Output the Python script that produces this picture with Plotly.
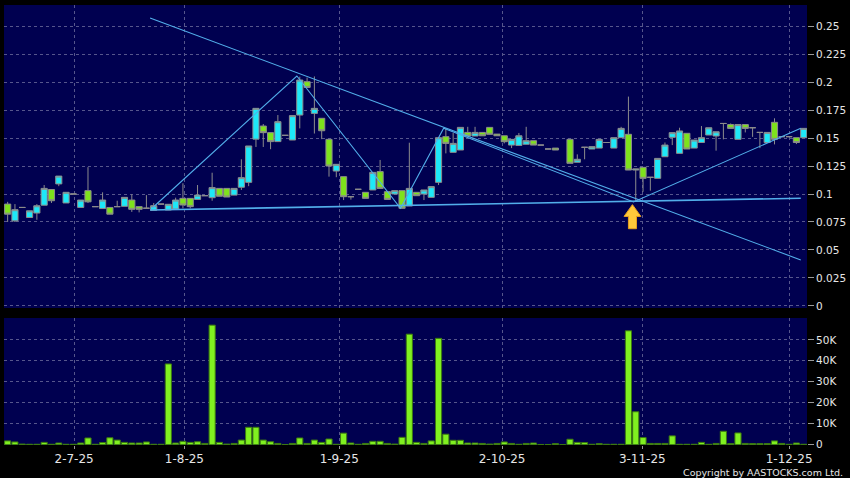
import plotly.graph_objects as go

# ---------------- data ----------------
opens = [0.091, 0.076, 0.088, 0.079, 0.083, 0.090, 0.104, 0.109, 0.092, 0.100,
         0.088, 0.103, 0.0887, 0.087, 0.088, 0.0887, 0.089, 0.0946, 0.0887, 0.0873,
         0.0854, 0.091, 0.0857, 0.0866, 0.0961, 0.0961, 0.0952, 0.0985, 0.0967, 0.105,
         0.105, 0.099, 0.106, 0.1104, 0.149, 0.1607, 0.1548, 0.1468, 0.1524, 0.1482,
         0.1705, 0.2003, 0.172, 0.1676, 0.1488, 0.1205, 0.1155, 0.0976, 0.1042, 0.1015,
         0.1036, 0.120, 0.1021, 0.100, 0.103, 0.0893, 0.1015, 0.100, 0.097, 0.1104,
         0.1512, 0.1372, 0.1393, 0.155, 0.1518, 0.155, 0.1595, 0.1535, 0.152, 0.1437,
         0.1434, 0.1444, 0.1476, 0.1437, 0.1402, 0.141, None, 0.1488, 0.1283, 0.1417,
         0.1402, 0.141, 0.146, 0.141, 0.1503, 0.1533, 0.1214, 0.1238, 0.1149, 0.114,
         0.1333, 0.1506, 0.1363, 0.1542, 0.141, 0.146, 0.1527, 0.1518, 0.163, 0.162,
         0.1488, 0.162, 0.1592, 0.155, 0.146, 0.164, 0.1512, 0.1512, 0.1503, 0.1503]
highs = [0.093, 0.091, 0.088, 0.085, 0.091, 0.108, 0.104, 0.116, 0.1015, 0.100,
         0.0946, 0.124, 0.0887, 0.1015, 0.088, 0.094, 0.097, 0.0997, 0.0887, 0.099,
         0.092, 0.091, 0.0908, 0.0967, 0.1096, 0.0961, 0.108, 0.0985, 0.119, 0.105,
         0.105, 0.105, 0.131, 0.1429, 0.1765, 0.1625, 0.1548, 0.1705, 0.1524, 0.170,
         0.2048, 0.204, 0.205, 0.1676, 0.1488, 0.1265, 0.1155, 0.0976, 0.1042, 0.1015,
         0.1193, 0.1304, 0.1021, 0.103, 0.103, 0.1458, 0.1015, 0.1036, 0.1066, 0.1503,
         0.1586, 0.1545, 0.1595, 0.160, 0.160, 0.155, 0.1595, 0.1535, 0.152, 0.1488,
         0.1545, 0.160, 0.1476, 0.1437, 0.1402, 0.141, None, 0.1488, 0.1354, 0.1417,
         0.1423, 0.1488, 0.146, 0.1503, 0.160, 0.187, 0.1223, 0.1238, 0.1149, 0.1318,
         0.146, 0.1548, 0.1592, 0.1542, 0.1482, 0.1607, 0.1592, 0.1556, 0.163, 0.163,
         0.162, 0.162, 0.1592, 0.155, 0.155, 0.1676, 0.1512, 0.1512, 0.1503, 0.1586]
lows = [0.075, 0.075, 0.088, 0.079, 0.077, 0.090, 0.092, 0.107, 0.092, 0.100,
        0.088, 0.092, 0.0887, 0.087, 0.082, 0.0887, 0.089, 0.084, 0.0836, 0.0873,
        0.0854, 0.091, 0.0857, 0.0866, 0.0872, 0.0872, 0.0952, 0.0985, 0.094, 0.098,
        0.0973, 0.099, 0.1036, 0.107, 0.142, 0.142, 0.140, 0.1468, 0.1524, 0.1482,
        0.1586, 0.1952, 0.154, 0.149, 0.1155, 0.115, 0.0946, 0.095, 0.1042, 0.0961,
        0.1036, 0.105, 0.0952, 0.100, 0.0872, 0.0893, 0.0985, 0.0946, 0.097, 0.108,
        0.1363, 0.1372, 0.1393, 0.1518, 0.1518, 0.152, 0.1533, 0.152, 0.1452, 0.141,
        0.1434, 0.1444, 0.1437, 0.1437, 0.1402, 0.1393, None, 0.1274, 0.1283, 0.131,
        0.1402, 0.141, 0.146, 0.141, 0.1503, 0.1214, 0.093, 0.102, 0.103, 0.114,
        0.1333, 0.1437, 0.1363, 0.1402, 0.141, 0.146, 0.1527, 0.1387, 0.1488, 0.1586,
        0.1488, 0.155, 0.151, 0.141, 0.146, 0.1443, 0.1512, 0.1512, 0.1446, 0.1503]
closes = [0.082, 0.086, 0.088, 0.085, 0.0895, 0.105, 0.094, 0.116, 0.1015, 0.100,
          0.0946, 0.093, 0.0887, 0.0946, 0.082, 0.0887, 0.097, 0.0863, 0.0863, 0.0873,
          0.0896, 0.091, 0.0908, 0.0946, 0.0902, 0.0887, 0.099, 0.0985, 0.1057, 0.098,
          0.0973, 0.105, 0.1146, 0.1429, 0.1765, 0.1548, 0.1468, 0.1646, 0.1524, 0.170,
          0.2018, 0.1952, 0.1765, 0.1565, 0.125, 0.1265, 0.0976, 0.0976, 0.1042, 0.0961,
          0.1193, 0.105, 0.0952, 0.103, 0.0872, 0.105, 0.0985, 0.1036, 0.1066, 0.1503,
          0.1452, 0.1452, 0.1595, 0.1518, 0.155, 0.152, 0.1533, 0.152, 0.1467, 0.1488,
          0.152, 0.1476, 0.1437, 0.1437, 0.1402, 0.1393, None, 0.1274, 0.131, 0.1417,
          0.1423, 0.1488, 0.146, 0.1503, 0.1586, 0.1214, 0.1223, 0.114, 0.1149, 0.1318,
          0.1437, 0.1548, 0.1563, 0.1402, 0.1482, 0.1503, 0.1592, 0.1556, 0.163, 0.1586,
          0.162, 0.1586, 0.1592, 0.155, 0.155, 0.1488, 0.1512, 0.1512, 0.146, 0.1586]
volumes = [1800, 1300, 300, 200, 200, 1100, 200, 800, 200, 200,
           800, 3200, 200, 1000, 3300, 2200, 1100, 800, 800, 1300,
           200, 200, 38500, 800, 1600, 1100, 1400, 600, 57000, 1100,
           300, 600, 2200, 8300, 8300, 2200, 1400, 600, 100, 600,
           3200, 600, 2200, 1100, 2700, 200, 5500, 800, 200, 600,
           1600, 1600, 600, 300, 3500, 52700, 1100, 600, 1800, 50700,
           5000, 2100, 2100, 800, 800, 600, 300, 600, 1300, 600,
           200, 600, 800, 100, 100, 500, 0, 2600, 1100, 1000,
           200, 500, 200, 200, 200, 54300, 15700, 3400, 600, 600,
           600, 4200, 200, 200, 200, 1100, 200, 600, 6400, 500,
           5600, 600, 500, 500, 500, 1800, 600, 200, 800, 200]
bar_index = list(range(len(opens)))

# date tick labels and where they fall on the bar index
date_ticks = [9.1, 24.2, 45.4, 67.7, 86.9, 107.0]
date_labels = ["2-7-25", "1-8-25", "1-9-25", "2-10-25", "3-11-25", "1-12-25"]

price_ticks = [0, 0.025, 0.05, 0.075, 0.1, 0.125, 0.15, 0.175, 0.2, 0.225, 0.25]
price_labels = ["0", "0.025", "0.05", "0.075", "0.1", "0.125", "0.15", "0.175", "0.2", "0.225", "0.25"]
vol_ticks = [0, 10000, 20000, 30000, 40000, 50000]
vol_labels = ["0", "10K", "20K", "30K", "40K", "50K"]

# drawn trend lines (bar index, price)
resist_x = [19.5, 108.6]
resist_y = [0.2571, 0.0411]
support_x = [19.5, 108.6]
support_y = [0.0857, 0.0962]
zigzag_x = [19.8, 39.6, 53.8, 59.7, 85.7, 108.6]
zigzag_y = [0.0875, 0.2054, 0.0872, 0.1587, 0.0929, 0.1587]

# ---------------- styling ----------------
BG = "#000050"
GRID = "#56568c"
CYAN = "#1ee8f8"
GREEN = "#7ee21c"
LINE = "#52aeea"
TXT = "#e6e6e6"
FONT = "DejaVu Sans"

fig = go.Figure()

fig.add_trace(go.Candlestick(
    x=bar_index, open=opens, high=highs, low=lows, close=closes,
    xaxis="x", yaxis="y",
    increasing=dict(fillcolor=CYAN, line=dict(color="#8c8c8c", width=1)),
    decreasing=dict(fillcolor=GREEN, line=dict(color="#8c8c8c", width=1)),
    whiskerwidth=0, showlegend=False, hoverinfo="skip",
))

for lx, ly, w in [(resist_x, resist_y, 1.1), (support_x, support_y, 1.6), (zigzag_x, zigzag_y, 1.1)]:
    fig.add_trace(go.Scatter(x=lx, y=ly, mode="lines", xaxis="x", yaxis="y",
                             line=dict(color=LINE, width=w), showlegend=False, hoverinfo="skip"))

fig.add_trace(go.Bar(
    x=bar_index, y=volumes, xaxis="x2", yaxis="y2",
    marker=dict(color="#80f020", line=dict(color="#3c7a10", width=1)),
    showlegend=False, hoverinfo="skip",
))

# yellow arrow under the convergence point
ax0 = 85.55
fig.add_shape(
    type="path", xref="x", yref="y",
    path=(f"M {ax0} 0.0905 L {ax0+1.15} 0.0800 L {ax0+0.55} 0.0800 L {ax0+0.55} 0.0690 "
          f"L {ax0-0.55} 0.0690 L {ax0-0.55} 0.0800 L {ax0-1.15} 0.0800 Z"),
    fillcolor="#ffc83a", line=dict(color="#e8a020", width=1), layer="above",
)

axis_common = dict(showline=False, zeroline=False, gridcolor=GRID, griddash="dot", gridwidth=1)

fig.update_layout(
    width=850, height=478,
    margin=dict(l=4, r=43, t=5, b=33),
    paper_bgcolor="#000000", plot_bgcolor=BG,
    font=dict(family=FONT, color=TXT),
    boxgap=0.16, boxgroupgap=0, bargap=0.16,
    xaxis=dict(domain=[0, 1], anchor="y", range=[-0.5, 109.45], matches="x2",
               tickvals=date_ticks, ticktext=date_labels, showticklabels=False, ticks="",
               rangeslider=dict(visible=False), **axis_common),
    yaxis=dict(domain=[0.3114, 1], anchor="x", side="right", range=[-0.0018, 0.2688],
               tickvals=price_ticks, ticktext=price_labels, ticks="outside", ticklen=6,
               tickcolor="#9a9a9a", tickfont=dict(size=10.5, color=TXT, family=FONT), **axis_common),
    xaxis2=dict(domain=[0, 1], anchor="y2", range=[-0.5, 109.45],
                tickvals=date_ticks, ticktext=date_labels, ticks="outside", ticklen=3,
                tickcolor="#9a9a9a", tickfont=dict(size=12, color=TXT, family=FONT), **axis_common),
    yaxis2=dict(domain=[0, 0.2886], anchor="x2", side="right", range=[-150, 60400],
                tickvals=vol_ticks, ticktext=vol_labels, ticks="outside", ticklen=6,
                tickcolor="#9a9a9a", tickfont=dict(size=10.5, color=TXT, family=FONT), **axis_common),
    annotations=[dict(text="Copyright by AASTOCKS.com Ltd.", xref="paper", yref="paper",
                      x=1.0475, y=-0.0615, xanchor="right", yanchor="middle", showarrow=False,
                      font=dict(size=9.5, color=TXT, family=FONT))],
)

fig.write_html("out.html", config={"displayModeBar": False},
               post_script="document.body.style.margin='0';document.body.style.padding='0';"
                           "document.body.style.background='#000';")
